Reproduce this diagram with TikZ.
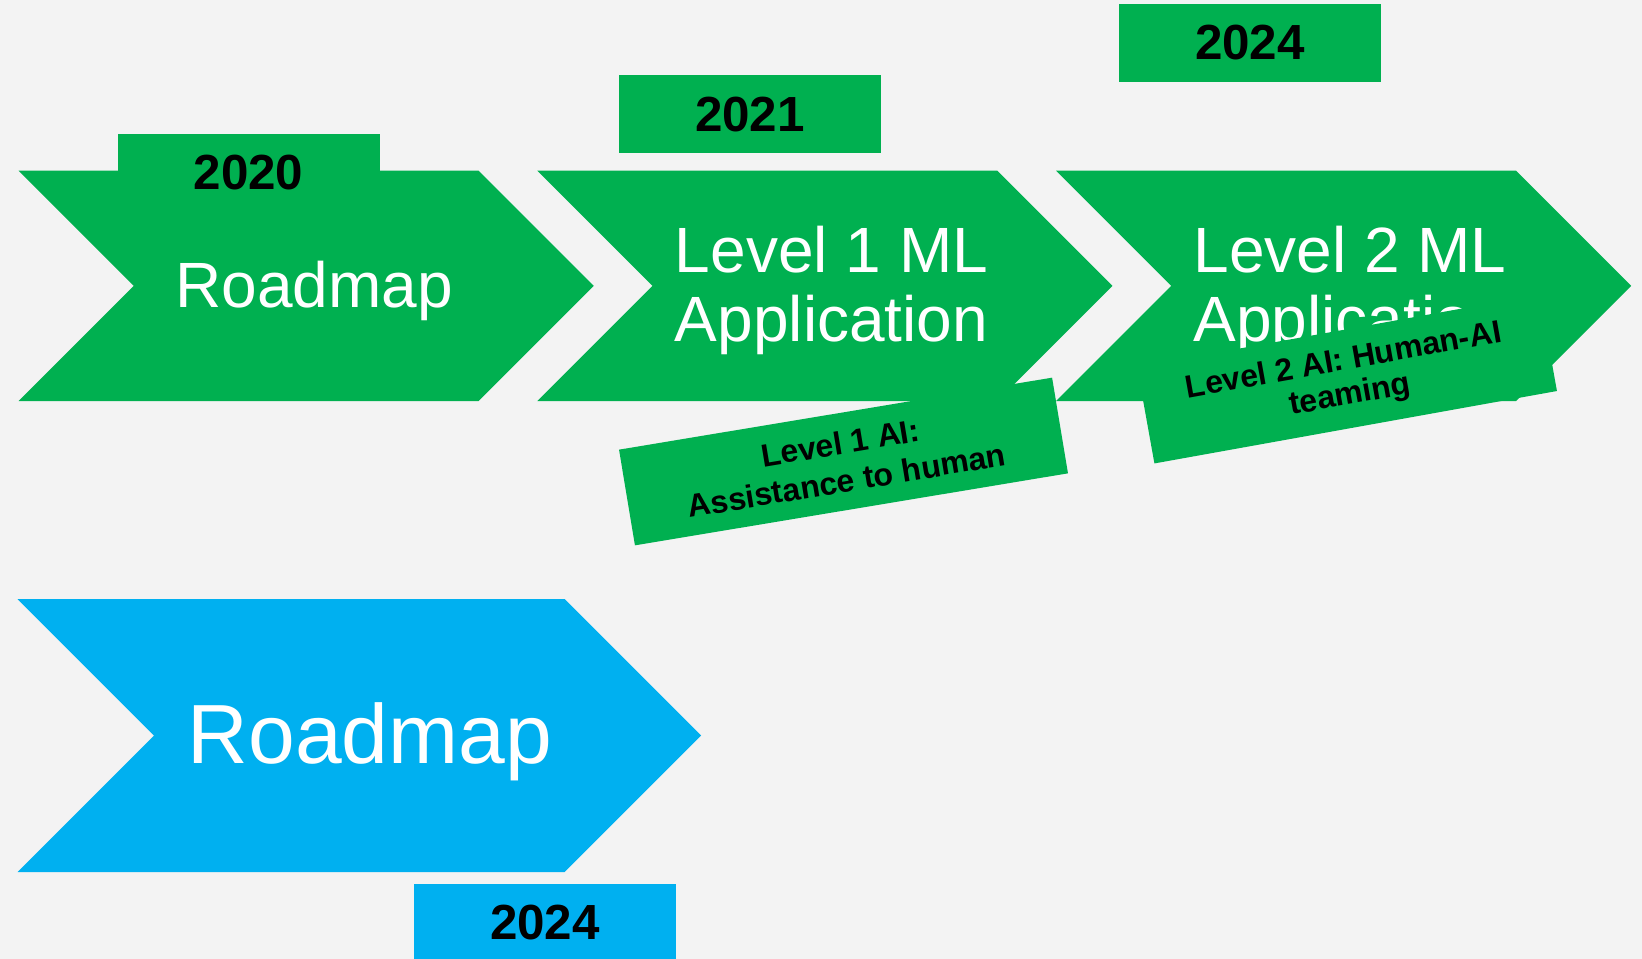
\documentclass[tikz,border=0pt]{standalone}
\usepackage{fontspec}
\setmainfont{Liberation Sans}
\definecolor{roadgreen}{HTML}{00B050}
\definecolor{roadblue}{HTML}{00B0F0}
\definecolor{slidebg}{HTML}{F3F3F3}
\tikzset{
  yearbox/.style={minimum width=196.5pt, minimum height=58.5pt, inner sep=0pt,
    font=\fontsize{37}{40}\selectfont\bfseries},
  chevtext/.style={text=white, align=center, inner sep=0pt,
    font=\fontsize{48}{52}\selectfont},
  aibox/.style={fill=roadgreen, inner sep=0pt, align=center,
    font=\fontsize{24}{28.5}\selectfont\bfseries}
}
\begin{document}
\begin{tikzpicture}[x=0.75pt, y=-0.75pt]
\clip (0,0) rectangle (1642,959);
\fill[slidebg] (0,0) rectangle (1642,959);
% green chevrons
\foreach \x in {18.6,537.3,1056}
  \fill[roadgreen] (\x,170.7) -- ++(460,0) -- ++(115.15,115.15) -- ++(-115.15,115.15)
    -- ++(-460,0) -- ++(115.15,-115.15) -- cycle;
% years
\node[yearbox, fill=roadgreen] (y2020) at (248.5,173) {2020};
\node[yearbox, fill=roadgreen] (y2021) at (750,114.2) {2021};
\node[yearbox, fill=roadgreen] (y2024) at (1250,42.9) {2024};
% labels
\node[chevtext] (road1) at (314,291) {Roadmap};
\node[chevtext] (lvl1) at (831.5,290.4) {Level 1 ML\\Application};
\node[chevtext] (lvl2) at (1350,290.4) {Level 2 ML\\Application};
\node[aibox, minimum width=329.25pt, minimum height=72.75pt, rotate=9.44] (ai1)
  at (843.5,461.5) {Level 1 AI:\\Assistance to human};
\node[aibox, minimum width=306.75pt, minimum height=73.5pt, rotate=10.2,
  font=\fontsize{24}{26}\selectfont\bfseries] (ai2)
  at (1347,379) {Level 2 AI: Human-AI\\teaming};
% blue chevron
\fill[roadblue] (17.5,599) -- ++(547,0) -- ++(136.5,136.5) -- ++(-136.5,136.5)
  -- ++(-547,0) -- ++(136.5,-136.5) -- cycle;
\node[chevtext, font=\fontsize{63}{70}\selectfont] (road2) at (370,741.8) {Roadmap};
\node[yearbox, fill=roadblue] (y2024b) at (545,923) {2024};
\end{tikzpicture}
\end{document}
